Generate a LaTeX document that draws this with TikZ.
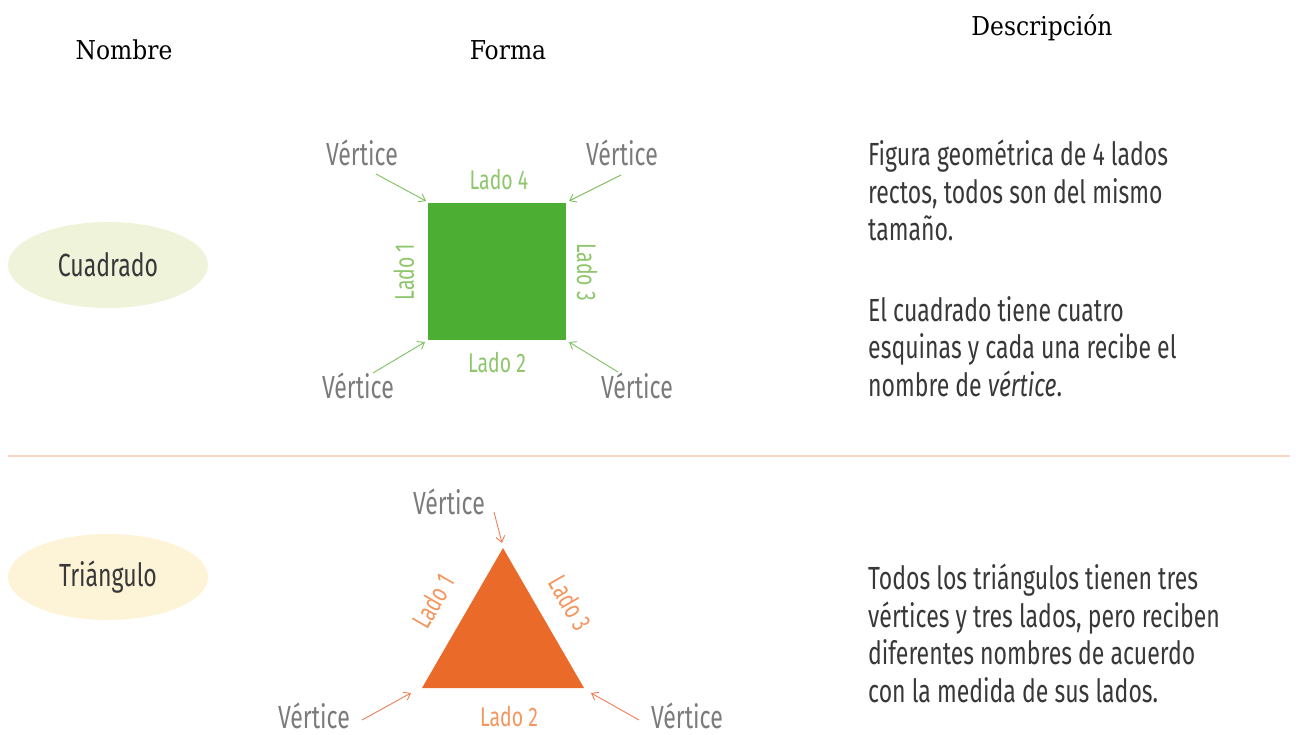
\documentclass[tikz,border=0pt]{standalone}
\usepackage{fontspec}
\setmainfont{Liberation Serif}
\newfontfamily\cond[FakeStretch=0.72]{Fira Sans}
\newfontfamily\condit[FakeStretch=0.72]{Fira Sans Italic}
\newfontfamily\hand{DejaVu Serif Condensed}
\usetikzlibrary{arrows.meta,shapes.geometric}
\definecolor{sqgreen}{HTML}{4CAF34}
\definecolor{ladogreen}{HTML}{8DC66B}
\definecolor{arrgreen}{HTML}{7DC060}
\definecolor{triorange}{HTML}{EA6A2A}
\definecolor{ladoorange}{HTML}{F4965E}
\definecolor{arrorange}{HTML}{EE7F55}
\definecolor{vgray}{HTML}{7B7B7B}
\definecolor{bodytxt}{HTML}{383838}
\definecolor{ellgreen}{HTML}{EEF3DA}
\definecolor{ellyellow}{HTML}{FDF3D6}
\definecolor{sepline}{HTML}{FAD5C5}
\tikzset{
  header/.style={font=\hand\fontsize{26}{30}\selectfont, text=black},
  namebox/.style={ellipse, minimum width=200pt, minimum height=86pt, inner sep=0pt, font=\cond\fontsize{32}{36}\selectfont, text=bodytxt},
  vert/.style={font=\cond\fontsize{32}{36}\selectfont, text=vgray, inner sep=1pt},
  ladog/.style={font=\cond\fontsize{27}{30}\selectfont, text=ladogreen, inner sep=1pt},
  ladoo/.style={font=\cond\fontsize{27}{30}\selectfont, text=ladoorange, inner sep=0pt},
  garrow/.style={draw=arrgreen, line width=0.9pt, -{Straight Barb[length=6pt,width=9pt]}},
  oarrow/.style={draw=arrorange, line width=0.9pt, -{Straight Barb[length=6pt,width=9pt]}},
  desc/.style={anchor=north west, align=left, inner sep=0pt, font=\cond\fontsize{32}{37.5}\selectfont, text=bodytxt}
}
\begin{document}
\begin{tikzpicture}[x=1pt,y=-1pt]
\useasboundingbox (0,0) rectangle (1296,735);
% headers
\node[header] (hnombre) at (124,50) {Nombre};
\node[header] (hforma) at (508,50) {Forma};
\node[header] (hdesc) at (1042,28) {Descripción};
% separator
\draw[sepline, line width=2pt] (8,456) -- (1290,456);
% name ellipses
\node[namebox, fill=ellgreen] (cuad) at (108,265) {Cuadrado};
\node[namebox, fill=ellyellow] (tri) at (108,577) {Triángulo};
% square
\fill[sqgreen] (428,203) rectangle (566,340);
\coordinate (sqTL) at (426,201);
\coordinate (sqTR) at (569,201);
\coordinate (sqBL) at (425,342);
\coordinate (sqBR) at (569,342);
\node[ladog] (l4) at (499,180) {Lado 4};
\node[ladog] (l2) at (497,363) {Lado 2};
\node[ladog, rotate=90] (l1) at (404,272) {Lado 1};
\node[ladog, rotate=-90] (l3) at (587,272) {Lado 3};
\node[vert] (v1) at (362,153) {Vértice};
\node[vert] (v2) at (622,153) {Vértice};
\node[vert] (v3) at (358,386) {Vértice};
\node[vert] (v4) at (637,386) {Vértice};
\coordinate (a1) at (376,174);
\coordinate (a2) at (621,175);
\coordinate (a3) at (373,373);
\coordinate (a4) at (618,372);
\draw[garrow] (a1) -- (sqTL);
\draw[garrow] (a2) -- (sqTR);
\draw[garrow] (a3) -- (sqBL);
\draw[garrow] (a4) -- (sqBR);
% triangle
\fill[triorange] (503,548) -- (422,688) -- (584,688) -- cycle;
\coordinate (tA) at (502,543);
\coordinate (tL) at (411,693);
\coordinate (tR) at (591,693);
\node[ladoo, rotate=60] (t1) at (433,601) {Lado 1};
\node[ladoo, rotate=-60] (t3) at (571,603) {Lado 3};
\node[ladoo] (t2) at (509,717) {Lado 2};
\node[vert] (tv1) at (449,502) {Vértice};
\node[vert] (tv2) at (314,716) {Vértice};
\node[vert] (tv3) at (687,716) {Vértice};
\coordinate (b1) at (494,512);
\coordinate (b2) at (362,720);
\coordinate (b3) at (639,720);
\draw[oarrow] (b1) -- (tA);
\draw[oarrow] (b2) -- (tL);
\draw[oarrow] (b3) -- (tR);
% descriptions
\node[desc] (d1) at (868,140) {Figura geométrica de 4 lados\\rectos, todos son del mismo\\tamaño.};
\node[desc] (d2) at (868,296) {El cuadrado tiene cuatro\\esquinas y cada una recibe el\\nombre de {\condit vértice}.};
\node[desc] (d3) at (868,564) {Todos los triángulos tienen tres\\vértices y tres lados, pero reciben\\diferentes nombres de acuerdo\\con la medida de sus lados.};
\end{tikzpicture}
\end{document}
